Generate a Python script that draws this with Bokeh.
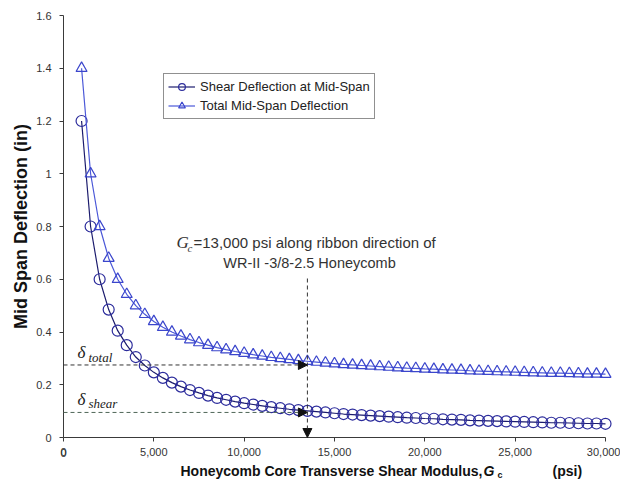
from bokeh.plotting import figure
from bokeh.models import Label, Arrow, NormalHead, FixedTicker, NumeralTickFormatter, Legend, LegendItem
from bokeh.core.properties import value
from bokeh.embed import file_html
from bokeh.resources import INLINE

# ---------------- data ----------------
g_psi = [1000, 1500, 2000, 2500, 3000, 3500, 4000, 4500, 5000, 5500,
         6000, 6500, 7000, 7500, 8000, 8500, 9000, 9500, 10000, 10500,
         11000, 11500, 12000, 12500, 13000, 13500, 14000, 14500, 15000, 15500,
         16000, 16500, 17000, 17500, 18000, 18500, 19000, 19500, 20000, 20500,
         21000, 21500, 22000, 22500, 23000, 23500, 24000, 24500, 25000, 25500,
         26000, 26500, 27000, 27500, 28000, 28500, 29000, 29500, 30000]
shear_defl = [1.2, 0.8, 0.6, 0.485, 0.405, 0.35, 0.305, 0.273, 0.247, 0.226,
              0.208, 0.193, 0.18, 0.169, 0.159, 0.15, 0.143, 0.136, 0.13, 0.125,
              0.12, 0.115, 0.111, 0.107, 0.104, 0.101, 0.098, 0.095, 0.092, 0.089,
              0.087, 0.085, 0.083, 0.081, 0.079, 0.077, 0.075, 0.074, 0.072, 0.071,
              0.069, 0.068, 0.067, 0.065, 0.064, 0.063, 0.062, 0.061, 0.06, 0.059,
              0.058, 0.057, 0.056, 0.056, 0.055, 0.054, 0.053, 0.053, 0.052]
total_defl = [1.4, 1.0, 0.8, 0.68, 0.6, 0.543, 0.5, 0.467, 0.44, 0.418,
              0.4, 0.385, 0.371, 0.36, 0.35, 0.341, 0.333, 0.326, 0.32, 0.314,
              0.309, 0.304, 0.3, 0.296, 0.292, 0.289, 0.286, 0.283, 0.28, 0.277,
              0.275, 0.273, 0.271, 0.269, 0.267, 0.265, 0.263, 0.262, 0.26, 0.259,
              0.257, 0.256, 0.255, 0.253, 0.252, 0.251, 0.25, 0.249, 0.248, 0.247,
              0.246, 0.245, 0.244, 0.244, 0.243, 0.242, 0.241, 0.241, 0.24]
x_ticks = [0, 5000, 10000, 15000, 20000, 25000, 30000]
y_ticks = [0, 0.2, 0.4, 0.6, 0.8, 1.0, 1.2, 1.4, 1.6]
y_tick_labels = ["0", "0.2", "0.4", "0.6", "0.8", "1", "1.2", "1.4", "1.6"]
series_names = ["Shear Deflection at Mid-Span", "Total Mid-Span Deflection"]
g_design = 13500
delta_total = 0.275
delta_shear = 0.095

# ---------------- layout ----------------
W, H = 620, 495
AX_LEFT, AX_RIGHT, AX_TOP, AX_ZERO = 63, 605, 15, 437   # pixel box of the axes
X0, X1, Y0, Y1 = 0, 30000, 0, 1.6
PX_X = (AX_RIGHT - AX_LEFT) / (X1 - X0)
PX_Y = (AX_ZERO - AX_TOP) / (Y1 - Y0)


def dx(px):
    return X0 + (px - AX_LEFT) / PX_X


def dy(py):
    return Y0 + (AX_ZERO - py) / PX_Y


# the frame covers the whole canvas; the axes are pinned at x=0 / y=0
p = figure(width=W, height=H, x_range=(dx(0), dx(W)), y_range=(dy(H), dy(0)),
           output_backend="svg", toolbar_location=None,
           min_border_left=0, min_border_right=0,
           min_border_top=0, min_border_bottom=0)
p.outline_line_color = None
p.xgrid.visible = False
p.ygrid.visible = False
p.background_fill_color = "white"
p.border_fill_color = "white"

SANS = "Liberation Sans"
SERIF = "Liberation Serif"
AX = "#3a3a3a"
TICK_TXT = "#333333"

for ax in (p.xaxis[0], p.yaxis[0]):
    ax.axis_line_color = AX
    ax.major_tick_line_color = AX
    ax.major_tick_out = 4
    ax.major_tick_in = 0
    ax.minor_tick_line_color = None
    ax.major_label_text_font = SANS
    ax.major_label_text_font_size = "11px"
    ax.major_label_text_color = TICK_TXT

p.xaxis.fixed_location = Y0
p.xaxis.bounds = (X0, X1)
p.xaxis.ticker = FixedTicker(ticks=x_ticks)
p.xaxis.formatter = NumeralTickFormatter(format="0,0")
p.xaxis.major_label_standoff = 6
p.yaxis.fixed_location = X0
p.yaxis.bounds = (Y0, Y1)
p.yaxis.ticker = FixedTicker(ticks=y_ticks)
p.yaxis.major_label_overrides = {t: s for t, s in zip(y_ticks, y_tick_labels)}
p.yaxis.major_label_standoff = 8
p.yaxis.axis_label = "Mid Span Deflection (in)"
p.yaxis.axis_label_text_font = SANS
p.yaxis.axis_label_text_font_style = "bold"
p.yaxis.axis_label_text_font_size = "18px"
p.yaxis.axis_label_text_color = "#111111"
p.yaxis.axis_label_standoff = 2

# ---------------- series ----------------
SHEAR_LINE, SHEAR_MARK = "#1c1c6e", "#2c2c9c"
TOTAL_LINE, TOTAL_MARK = "#4b58d8", "#3b46cc"

r_sl = p.line(g_psi, shear_defl, line_color=SHEAR_LINE, line_width=1.2)
r_sm = p.scatter(g_psi, shear_defl, marker="circle", size=11, fill_color=None,
                 line_color=SHEAR_MARK, line_width=1.2)
r_tl = p.line(g_psi, total_defl, line_color=TOTAL_LINE, line_width=1.2)
r_tm = p.scatter(g_psi, total_defl, marker="triangle", size=11, fill_color=None,
                 line_color=TOTAL_MARK, line_width=1.2)

legend = Legend(items=[LegendItem(label=series_names[0], renderers=[r_sl, r_sm]),
                       LegendItem(label=series_names[1], renderers=[r_tl, r_tm])],
                location=(163, H - 119))
legend.label_text_font = SANS
legend.label_text_font_size = "13px"
legend.label_text_color = "#222222"
legend.glyph_width = 27
legend.glyph_height = 17
legend.label_height = 17
legend.spacing = 2
legend.padding = 4
legend.margin = 0
legend.label_standoff = 5
legend.border_line_color = "#222222"
legend.border_line_width = 1
legend.background_fill_color = "white"
legend.background_fill_alpha = 1
p.add_layout(legend)

# ---------------- reference arrows ----------------
head = dict(size=9, fill_color="#111111", line_color="#111111")
p.add_layout(Arrow(x_start=X0, y_start=delta_total, x_end=g_design, y_end=delta_total,
                   line_dash="4 3", line_color="#333333", line_width=1,
                   end=NormalHead(**head)))
p.add_layout(Arrow(x_start=X0, y_start=delta_shear, x_end=g_design, y_end=delta_shear,
                   line_dash="4 3", line_color="#4f6658", line_width=1,
                   end=NormalHead(**head)))
p.add_layout(Arrow(x_start=g_design, y_start=dy(278), x_end=g_design, y_end=Y0,
                   line_dash="4 3", line_color="#333333", line_width=1,
                   end=NormalHead(**head)))


def lab(px, py, text, font=SANS, size="13px", style="normal", color="#222222",
        align="left"):
    p.add_layout(Label(x=dx(px), y=dy(py), text=text, text_font=font,
                       text_font_size=size, text_font_style=style,
                       text_color=color, text_align=align, text_baseline="middle"))


# x tick label at the origin, drawn as a text glyph
p.text(x=[x_ticks[0]], y=[dy(452)], text=["0"], text_font=value(SANS),
       text_font_size="11px", text_color=TICK_TXT,
       text_align="center", text_baseline="middle")

# delta labels
lab(77, 352, "δ", font=SERIF, size="17px", style="italic")
lab(88, 357, "total", font=SERIF, size="13px", style="italic")
lab(77, 399, "δ", font=SERIF, size="17px", style="italic")
lab(88, 403, "shear", font=SERIF, size="13px", style="italic")

# design-point annotation
lab(176, 242, "G", font=SERIF, size="17px", style="italic", color="#333333")
lab(187, 247, "c", font=SERIF, size="11px", style="italic", color="#333333")
lab(193, 242, "=13,000 psi along ribbon direction of", size="15px", color="#333333")
lab(309, 262, "WR-II -3/8-2.5 Honeycomb", size="14.5px", color="#333333",
    align="center")

# x axis title with italic G and subscript c
lab(180, 470, "Honeycomb Core Transverse Shear Modulus,", size="14px",
    style="bold", color="#111111")
lab(483, 470, "G", size="14px", style="bold italic", color="#111111")
lab(497, 474, "c", size="9px", style="bold", color="#111111")
lab(552, 470, "(psi)", size="14px", style="bold", color="#111111")

open("out.html", "w").write(file_html(p, INLINE))
